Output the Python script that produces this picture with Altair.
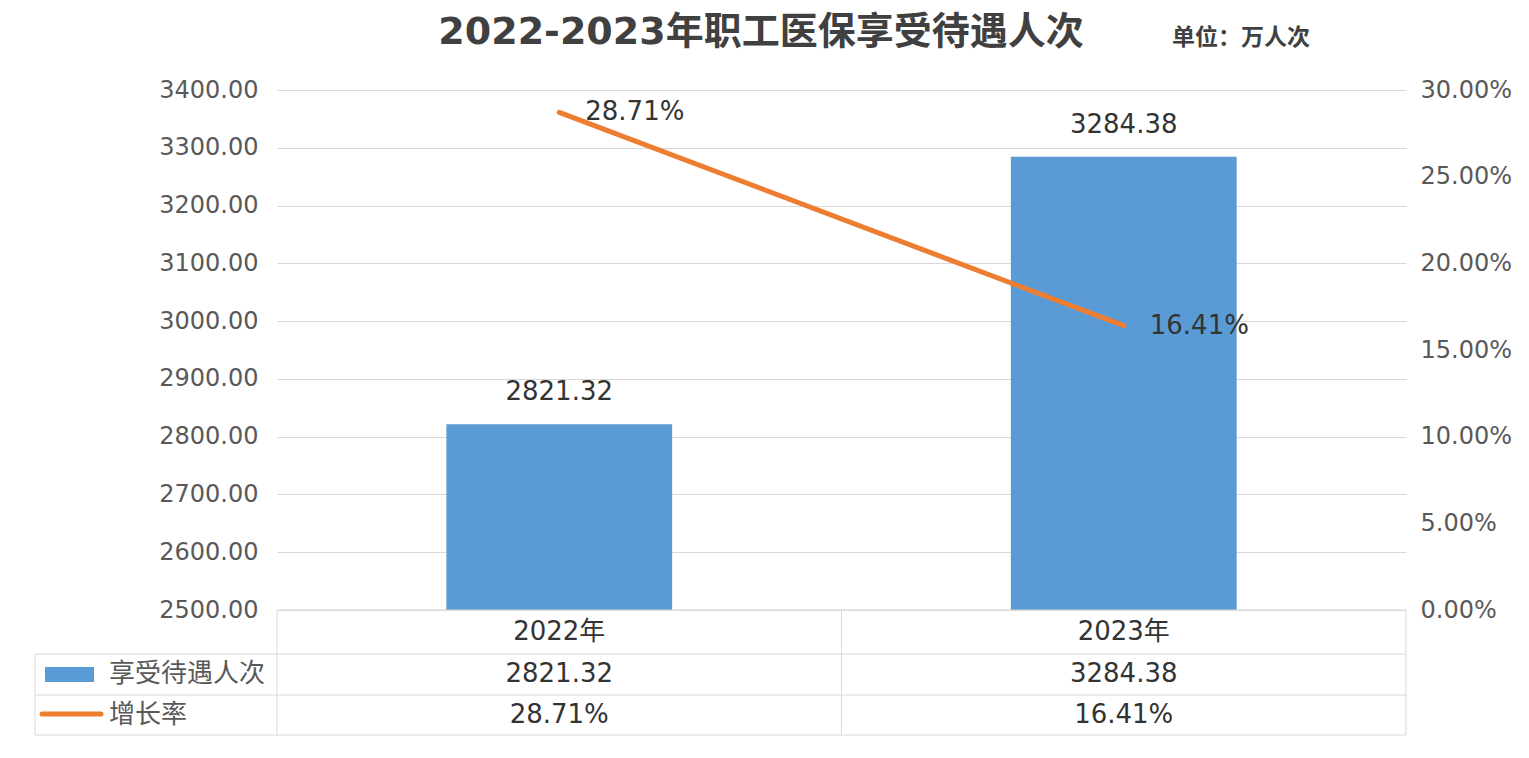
import altair as alt
import pandas as pd

# ---- data ----
years = ["2022年", "2023年"]
counts = [2821.32, 3284.38]
rates = [0.2871, 0.1641]
series_names = ["享受待遇人次", "增长率"]
title_text = "2022-2023年职工医保享受待遇人次"
unit_text = "单位：万人次"
left_ticks = [2500, 2600, 2700, 2800, 2900, 3000, 3100, 3200, 3300, 3400]
right_ticks = [0.0, 0.05, 0.10, 0.15, 0.20, 0.25, 0.30]

df = pd.DataFrame({"year": years, "count": counts, "rate": rates})

FONT = "DejaVu Sans, Noto Sans CJK SC"
BLUE = "#5B9BD5"
ORANGE = "#ED7D31"
TXT = "#333333"
GRAY = "#595959"
LINE = "#d9d9d9"
W, H = 1129, 520

base = alt.Chart(df)
xenc = alt.X("year:N", sort=years, scale=alt.Scale(paddingInner=0.6, paddingOuter=0.3), axis=None)

yleft = alt.Y(
    "count:Q",
    scale=alt.Scale(domain=[2500, 3400], zero=False, nice=False),
    axis=alt.Axis(values=left_ticks, format=".2f", title=None, domain=False, ticks=False,
                  grid=True, gridColor=LINE, gridWidth=1, labelFont=FONT, labelFontSize=24,
                  labelColor=GRAY, labelPadding=19),
)
yright = alt.Y(
    "rate:Q",
    scale=alt.Scale(domain=[0, 0.30], zero=True, nice=False),
    axis=alt.Axis(orient="right", values=right_ticks, format=".2%", title=None, domain=False,
                  ticks=False, grid=False, labelFont=FONT, labelFontSize=24,
                  labelColor=GRAY, labelPadding=14),
)

bars = base.mark_bar(color=BLUE).encode(x=xenc, y=yleft, y2=alt.datum(2500))
bar_text = base.mark_text(dy=-32, fontSize=26, font=FONT, color=TXT, baseline="middle").encode(
    x=xenc, y=yleft, text=alt.Text("count:Q", format=".2f"))
bar_layer = alt.layer(bars, bar_text)

line = base.mark_line(color=ORANGE, strokeWidth=5, strokeCap="round").encode(x=xenc, y=yright)
line_text = base.mark_text(align="left", dx=26, baseline="middle", fontSize=26, font=FONT, color=TXT).encode(
    x=xenc, y=yright, text=alt.Text("rate:Q", format=".2%"))
line_layer = alt.layer(line, line_text)

# ---- data table under the plot ----
cell = dict(fontSize=26, font=FONT, color=TXT, baseline="middle", align="center")
year_row = base.mark_text(**cell).encode(x=xenc, y=alt.value(542), text="year:N")
count_row = base.mark_text(**cell).encode(x=xenc, y=alt.value(584), text=alt.Text("count:Q", format=".2f"))
rate_row = base.mark_text(**cell).encode(x=xenc, y=alt.value(625), text=alt.Text("rate:Q", format=".2%"))

one = alt.Chart(pd.DataFrame({"k": [0]}))
rules = []
for yv, x1 in [(520, 0), (564, -242), (605, -242), (645, -242)]:
    rules.append(one.mark_rule(color=LINE, strokeWidth=1).encode(
        x=alt.value(x1), x2=alt.value(W), y=alt.value(yv)))
for xv, y1 in [(0, 520), (W / 2, 520), (W, 520), (-242, 564)]:
    rules.append(one.mark_rule(color=LINE, strokeWidth=1).encode(
        x=alt.value(xv), y=alt.value(y1), y2=alt.value(645)))

leg_rect = one.mark_rect(color=BLUE).encode(
    x=alt.value(-232), x2=alt.value(-183), y=alt.value(577), y2=alt.value(592))
leg_line = one.mark_rule(color=ORANGE, strokeWidth=5, strokeCap="round").encode(
    x=alt.value(-235), x2=alt.value(-176), y=alt.value(624))
leg_texts = []
for name, yv in zip(series_names, [584, 625]):
    leg_texts.append(alt.Chart(pd.DataFrame({"n": [name]})).mark_text(
        align="left", baseline="middle", fontSize=26, font=FONT, color=GRAY).encode(
        text="n:N", x=alt.value(-168), y=alt.value(yv)))

title_mark = alt.Chart(pd.DataFrame({"t": [title_text]})).mark_text(
    align="center", baseline="alphabetic", fontSize=38, font=FONT, fontWeight="bold", color="#404040"
).encode(text="t:N", x=alt.value(484), y=alt.value(-46))
unit_mark = alt.Chart(pd.DataFrame({"t": [unit_text]})).mark_text(
    align="left", baseline="alphabetic", fontSize=23, font=FONT, fontWeight="bold", color="#404040"
).encode(text="t:N", x=alt.value(895), y=alt.value(-45))

chart = alt.layer(
    bar_layer, line_layer, year_row, count_row, rate_row, *rules, leg_rect, leg_line, *leg_texts,
    title_mark, unit_mark,
).resolve_scale(y="independent").properties(
    width=W, height=H,
    autosize=alt.AutoSizeParams(type="none"),
    padding={"left": 269, "top": 82, "right": 115, "bottom": 140},
).configure_view(stroke=None)

chart.save("out.html", embed_options={"renderer": "svg", "actions": False})
